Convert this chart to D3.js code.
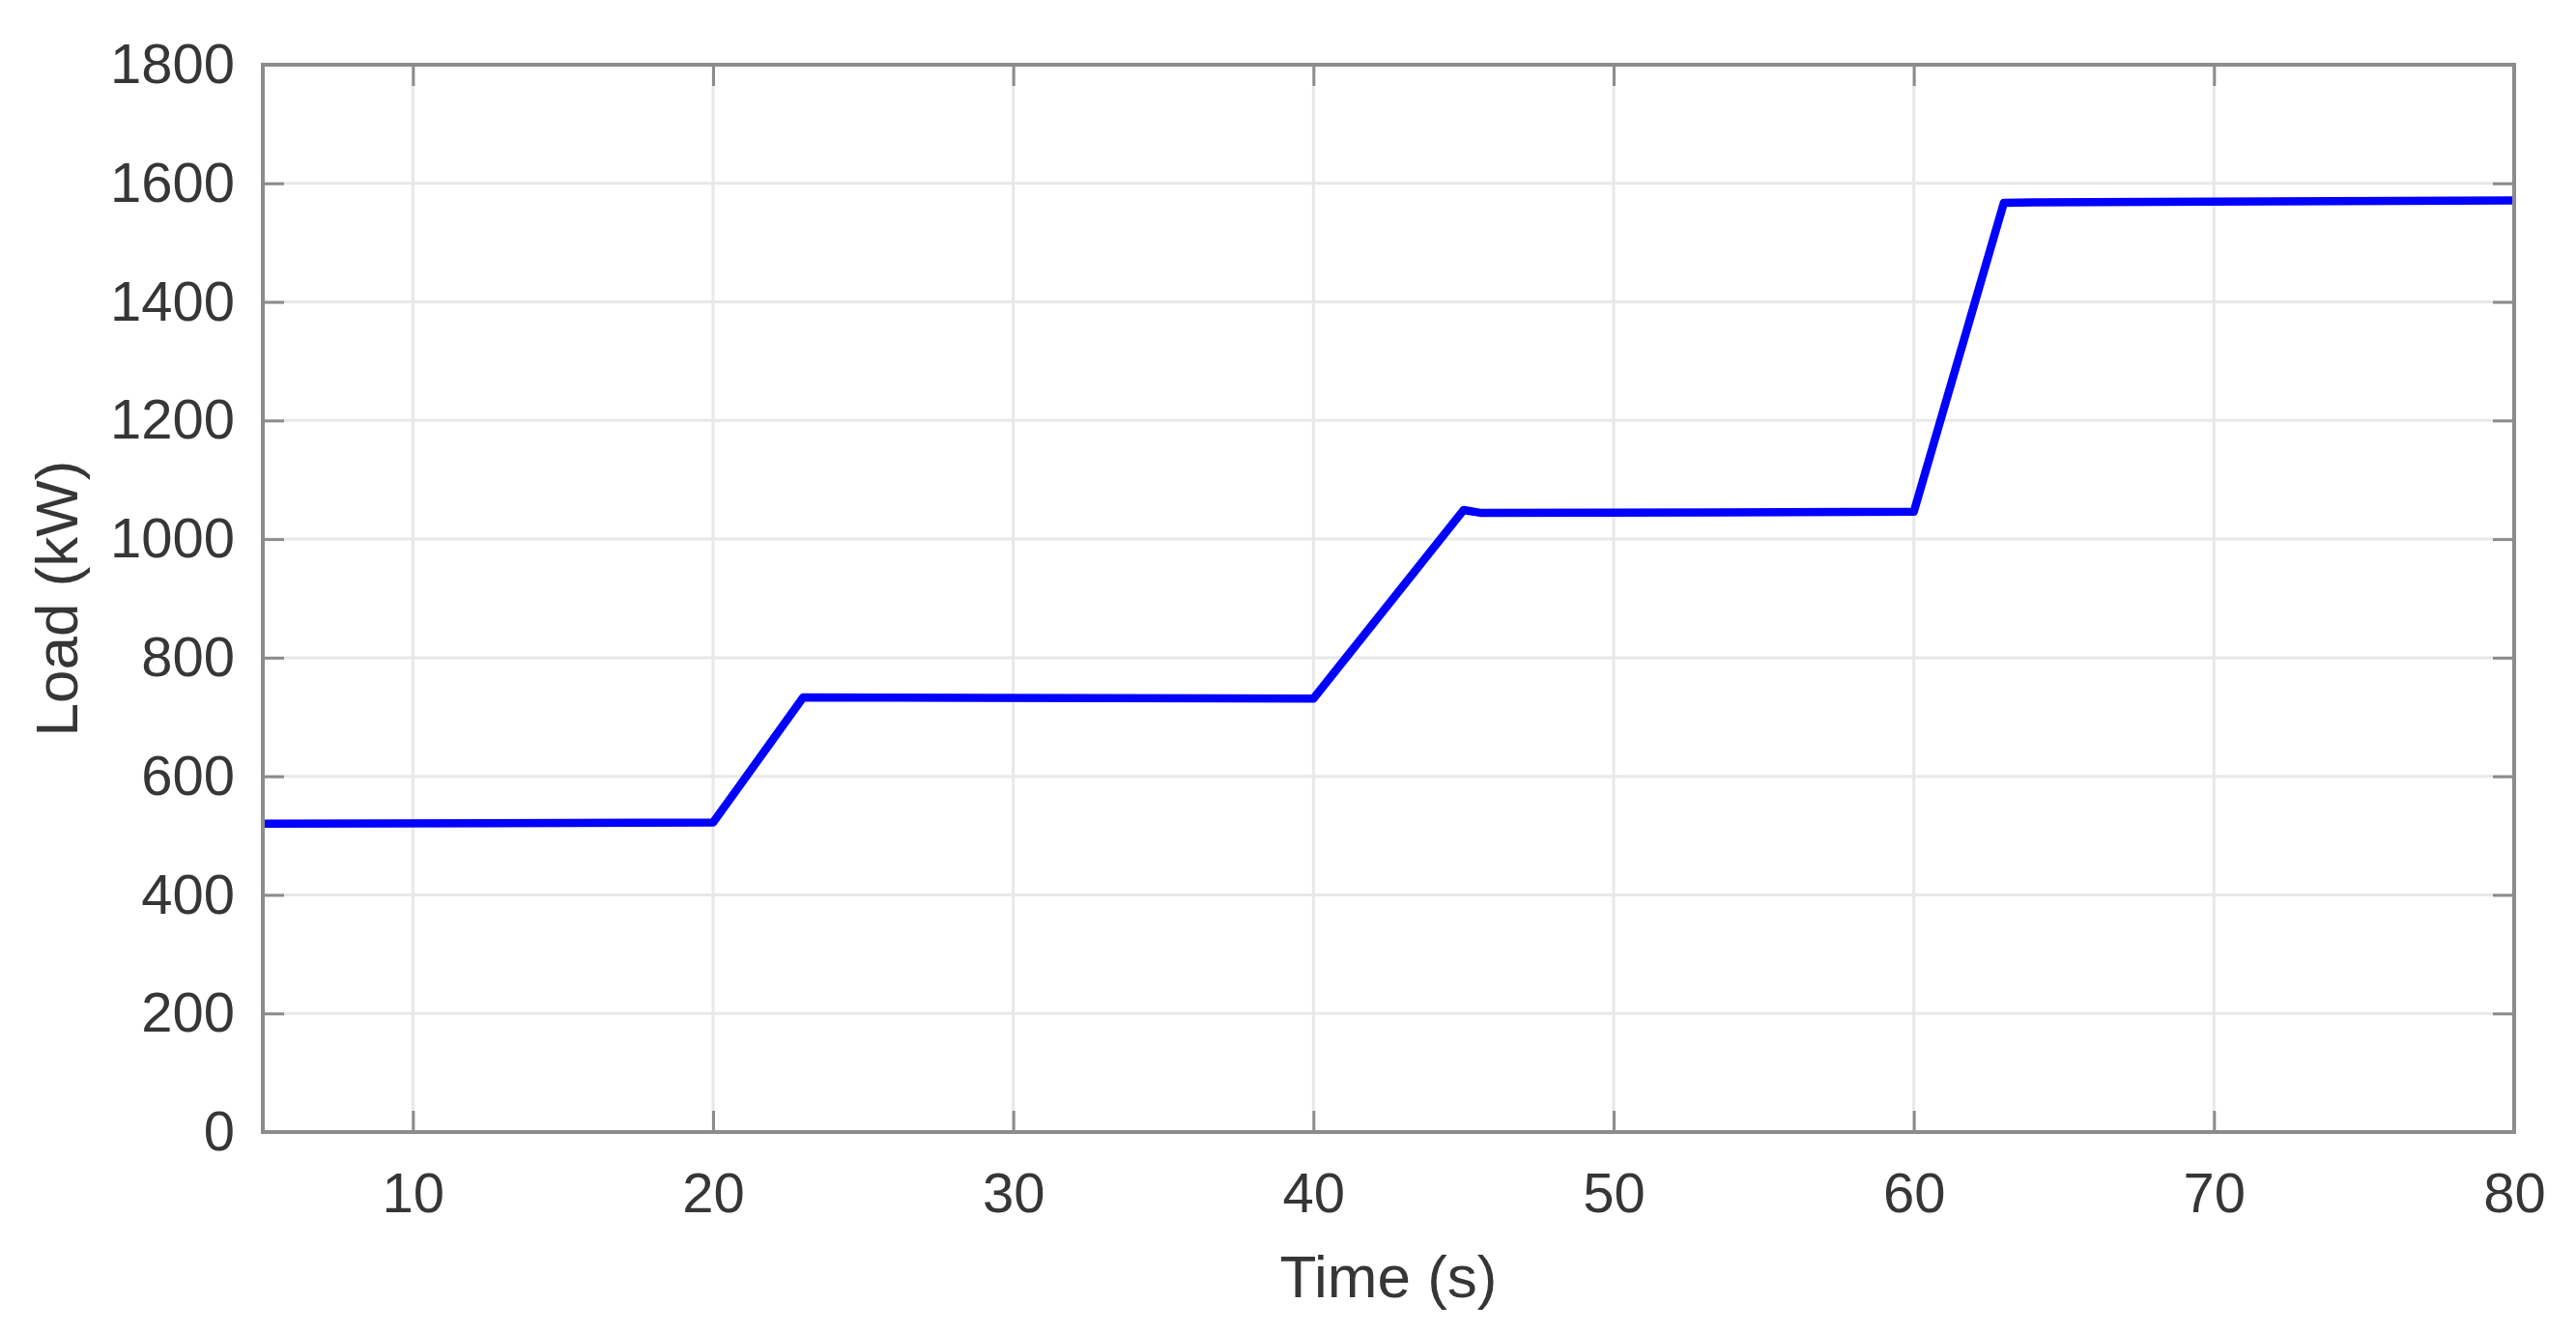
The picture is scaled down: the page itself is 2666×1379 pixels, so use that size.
<!DOCTYPE html>
<html>
<head>
<meta charset="utf-8">
<script src="https://cdn.jsdelivr.net/npm/d3@7"></script>
<style>
  html, body { margin: 0; padding: 0; background: #ffffff; }
  svg { display: block; }
</style>
</head>
<body>
<svg id="chart" width="2666" height="1379"></svg>
<script>
// ---- data ----
const timeS  = [5, 20, 23, 40, 45, 45.6, 60, 63, 64, 80];
const loadKW = [520, 522, 733, 731, 1049, 1044, 1046, 1567, 1568, 1571];
const xTicks = [10, 20, 30, 40, 50, 60, 70, 80];
const yTicks = [0, 200, 400, 600, 800, 1000, 1200, 1400, 1600, 1800];
const xLabel = "Time (s)";
const yLabel = "Load (kW)";

// ---- layout ----
const W = 2666, H = 1379;
const m = { left: 272, right: W - 2602, top: 67, bottom: H - 1172 };
const iw = W - m.left - m.right, ih = H - m.top - m.bottom;

const svg = d3.select("#chart");
const g = svg.append("g").attr("transform", `translate(${m.left},${m.top})`);

const x = d3.scaleLinear().domain([5, 80]).range([0, iw]);
const y = d3.scaleLinear().domain([0, 1800]).range([ih, 0]);

const axisColor = "#8c8c8c";
const textColor = "#363636";
const font = "'Liberation Sans', Arial, Helvetica, sans-serif";

// grid
g.append("g").selectAll("line.gx").data(xTicks.filter(d => d < 80)).join("line")
  .attr("x1", d => x(d)).attr("x2", d => x(d)).attr("y1", 0).attr("y2", ih)
  .attr("stroke", "#e8e8e8").attr("stroke-width", 3);
g.append("g").selectAll("line.gy").data(yTicks.filter(d => d > 0 && d < 1800)).join("line")
  .attr("y1", d => y(d)).attr("y2", d => y(d)).attr("x1", 0).attr("x2", iw)
  .attr("stroke", "#e8e8e8").attr("stroke-width", 3);

// data line
const line = d3.line().x((d, i) => x(timeS[i])).y((d, i) => y(loadKW[i]));
g.append("path").datum(loadKW)
  .attr("d", line)
  .attr("fill", "none")
  .attr("stroke", "#0000ff")
  .attr("stroke-width", 8.5)
  .attr("stroke-linejoin", "round");

// axes (ticks inward, on all four sides)
const tickLen = 22;
function styleAxis(sel) {
  sel.selectAll(".domain").remove();
  sel.selectAll(".tick line").attr("stroke", axisColor).attr("stroke-width", 3);
  sel.selectAll(".tick text").attr("fill", textColor).style("font-family", font).style("font-size", "58px");
}
const xb = g.append("g").attr("transform", `translate(0,${ih})`)
  .call(d3.axisBottom(x).tickValues(xTicks).tickSize(-tickLen).tickPadding(42).tickFormat(d3.format("d")));
styleAxis(xb);
const xt = g.append("g")
  .call(d3.axisTop(x).tickValues(xTicks).tickSize(-tickLen).tickFormat(""));
styleAxis(xt);
const yl = g.append("g")
  .call(d3.axisLeft(y).tickValues(yTicks).tickSize(-tickLen).tickPadding(29).tickFormat(d3.format("d")));
styleAxis(yl);
const yr = g.append("g").attr("transform", `translate(${iw},0)`)
  .call(d3.axisRight(y).tickValues(yTicks).tickSize(-tickLen).tickFormat(""));
styleAxis(yr);

// box
g.append("rect").attr("x", 0).attr("y", 0).attr("width", iw).attr("height", ih)
  .attr("fill", "none").attr("stroke", axisColor).attr("stroke-width", 4);

// axis labels
svg.append("text")
  .attr("x", m.left + iw / 2).attr("y", 1343)
  .attr("text-anchor", "middle")
  .attr("fill", textColor).style("font-family", font).style("font-size", "62px")
  .text(xLabel);
svg.append("text")
  .attr("transform", `translate(80,${m.top + ih / 2}) rotate(-90)`)
  .attr("text-anchor", "middle")
  .attr("fill", textColor).style("font-family", font).style("font-size", "62px")
  .text(yLabel);
</script>
</body>
</html>
